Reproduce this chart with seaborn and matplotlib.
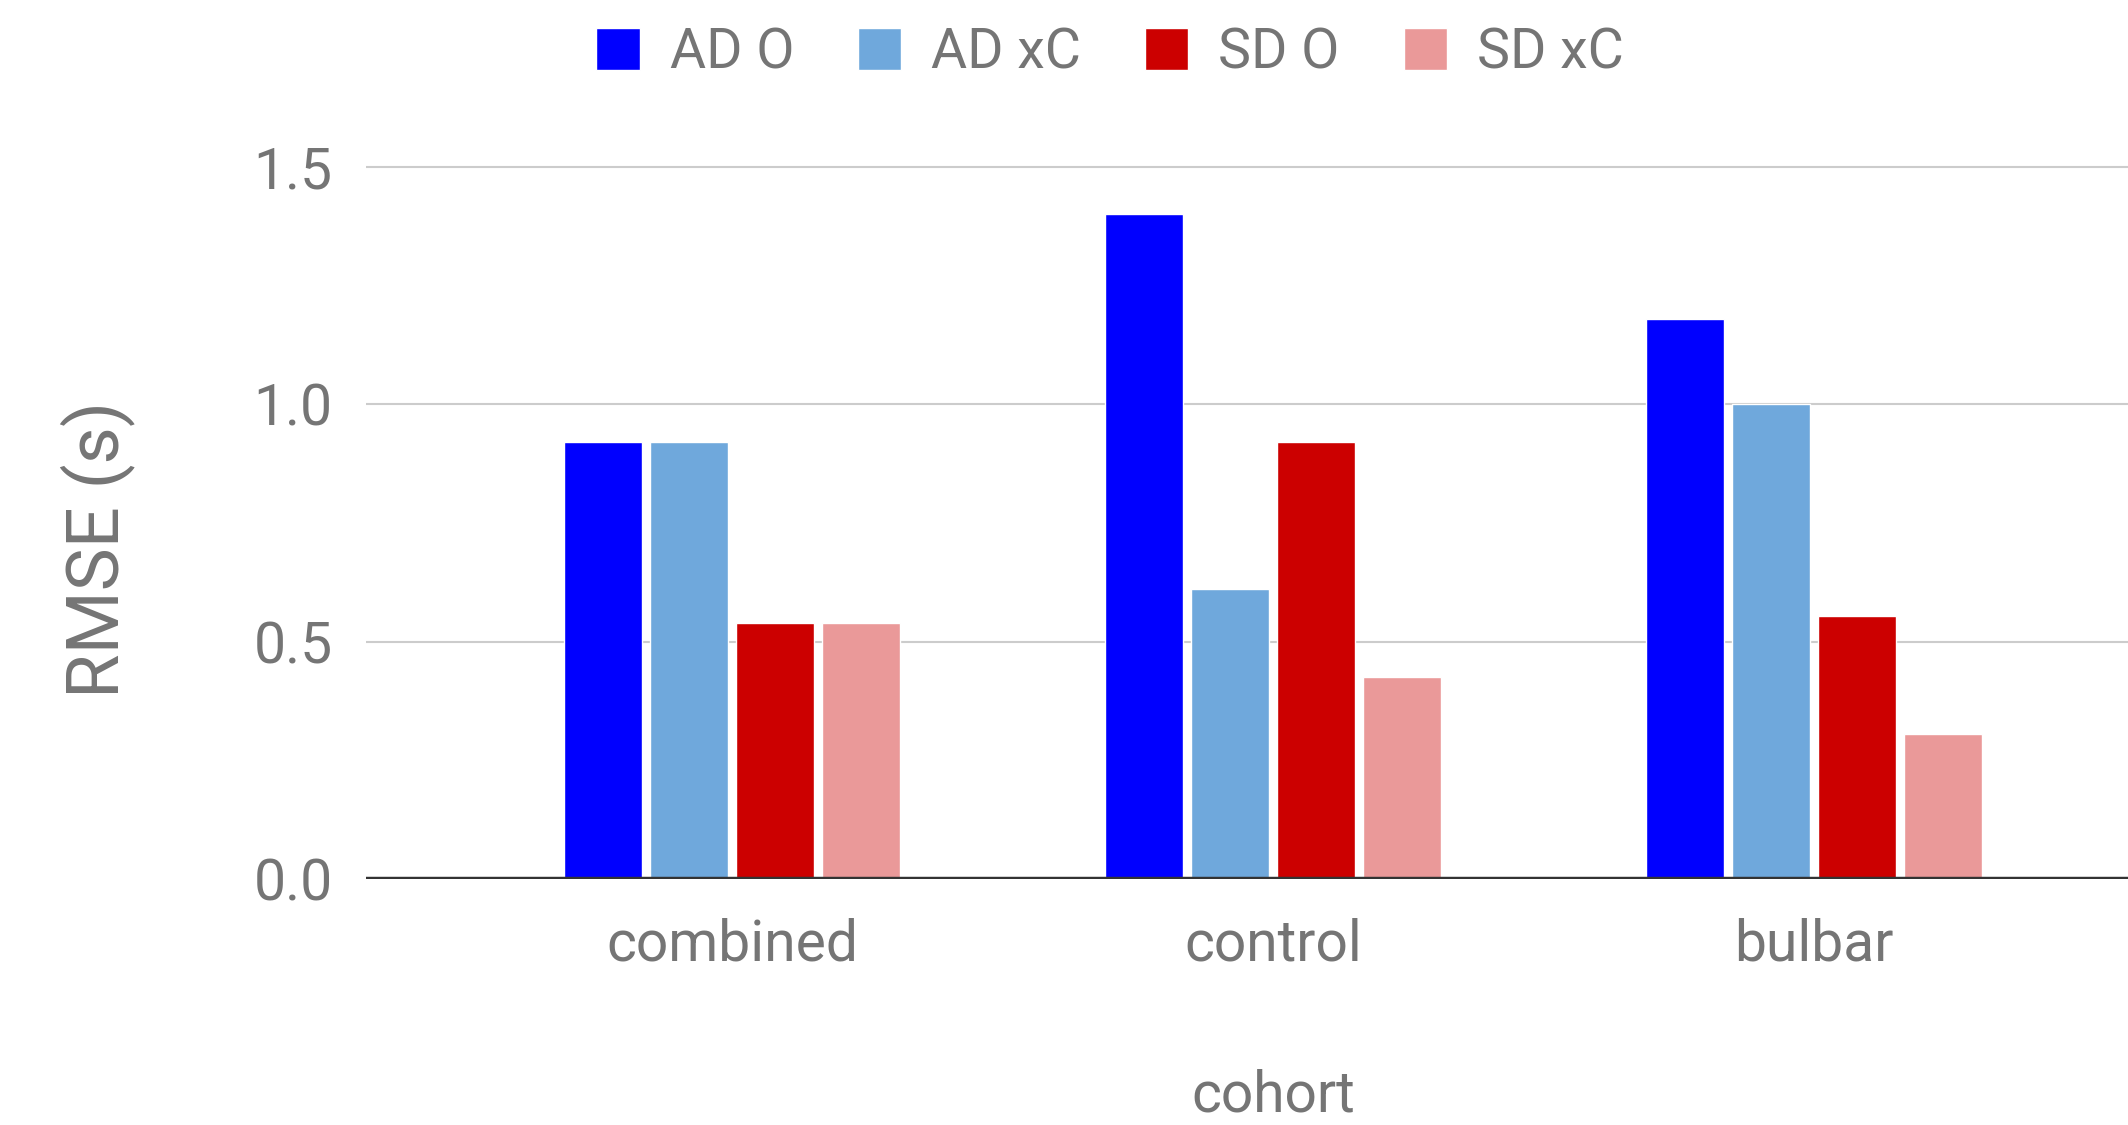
import pandas as pd
import matplotlib
matplotlib.use("Agg")
import matplotlib.pyplot as plt
import seaborn as sns

# values
cohorts = ["combined", "control", "bulbar"]
series = ["AD O", "AD xC", "SD O", "SD xC"]
ad_o = [0.92, 1.40, 1.18]
ad_xc = [0.92, 0.61, 1.00]
sd_o = [0.54, 0.92, 0.555]
sd_xc = [0.54, 0.425, 0.305]
colors = ["#0000ff", "#6fa8dc", "#cc0000", "#ea9999"]
y_ticks = [0.0, 0.5, 1.0, 1.5]

rows = []
for name, vals in zip(series, [ad_o, ad_xc, sd_o, sd_xc]):
    for c, v in zip(cohorts, vals):
        rows.append({"cohort": c, "series": name, "rmse": v})
df = pd.DataFrame(rows)

sns.set_theme(style="white")
plt.rcParams["font.family"] = ["Roboto", "DejaVu Sans"]
text_gray = "#757575"

fig = plt.figure(figsize=(21.28, 11.25), dpi=100)
ax = fig.add_axes([0.172, 0.2187, 0.828, 0.86 - 0.2187])

sns.barplot(data=df, x="cohort", y="rmse", hue="series", order=cohorts,
            hue_order=series, palette=colors, saturation=1, width=0.636,
            gap=0.093, ax=ax, errorbar=None)

ax.set_xlim(-0.677, 2.58)
ax.set_ylim(0, 1.52)
ax.set_yticks(y_ticks)
ax.set_yticklabels([f"{t:.1f}" for t in y_ticks])
ax.yaxis.grid(True, color="#cccccc", linewidth=1.5)
ax.set_axisbelow(True)
ax.axhline(0, color="#333333", linewidth=3.2, zorder=5)
for s in ax.spines.values():
    s.set_visible(False)
ax.tick_params(axis="both", length=0, labelsize=41, labelcolor=text_gray)
ax.tick_params(axis="x", pad=28)
ax.tick_params(axis="y", pad=24)

ax.set_xlabel("cohort", fontsize=41, color=text_gray)
ax.xaxis.set_label_coords(0.5148, -0.263)
ax.set_ylabel("RMSE (s)", fontsize=52, color=text_gray)
ax.yaxis.set_label_coords(-0.131, 0.456)

handles, labels = ax.get_legend_handles_labels()
ax.get_legend().remove()
fig.legend(handles, labels, loc="center", bbox_to_anchor=(0.5216, 1 - 53 / 1125),
           ncol=4, frameon=False, fontsize=40, labelcolor=text_gray,
           handlelength=0.78, handleheight=0.78, handletextpad=0.54,
           columnspacing=1.15)

fig.savefig("out.png", dpi=100)
